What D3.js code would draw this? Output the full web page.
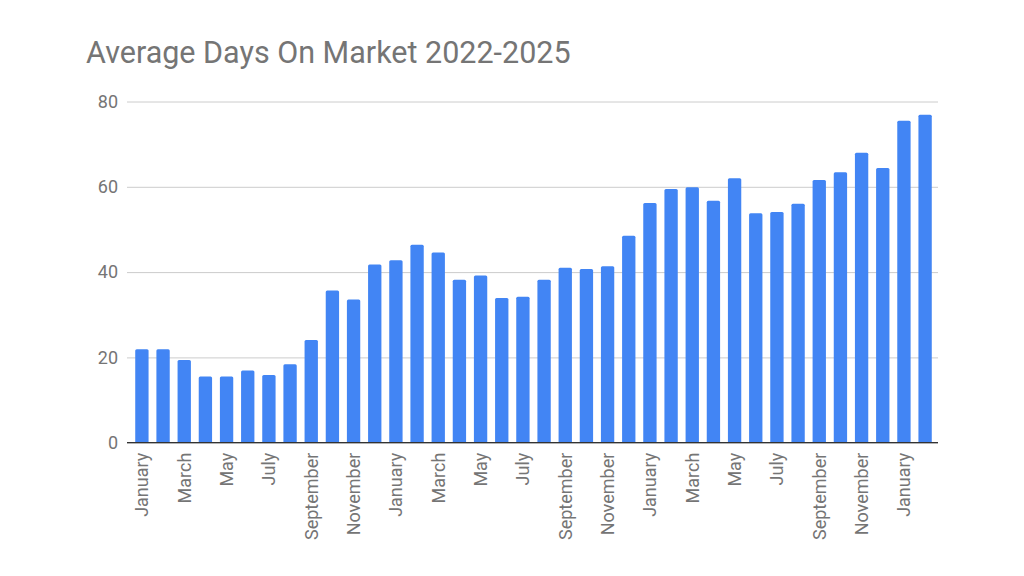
<!DOCTYPE html>
<html>
<head>
<meta charset="utf-8">
<script src="https://cdn.jsdelivr.net/npm/d3@7"></script>
<style>
  body { margin: 0; background: #fff; }
  svg { display: block; font-family: Roboto, "Noto Sans", sans-serif; }
</style>
</head>
<body>
<div id="chart"></div>
<script>
const monthNames = ["January", "February", "March", "April", "May", "June",
  "July", "August", "September", "October", "November", "December"];

// Jan 2022 .. Feb 2025
const months = [
  "2022-01", "2022-02", "2022-03", "2022-04", "2022-05", "2022-06",
  "2022-07", "2022-08", "2022-09", "2022-10", "2022-11", "2022-12",
  "2023-01", "2023-02", "2023-03", "2023-04", "2023-05", "2023-06",
  "2023-07", "2023-08", "2023-09", "2023-10", "2023-11", "2023-12",
  "2024-01", "2024-02", "2024-03", "2024-04", "2024-05", "2024-06",
  "2024-07", "2024-08", "2024-09", "2024-10", "2024-11", "2024-12",
  "2025-01", "2025-02"
];

const daysOnMarket = [
  21.9, 21.9, 19.4, 15.5, 15.5, 16.9, 15.9, 18.4, 24.1, 35.7, 33.6, 41.8,
  42.8, 46.4, 44.6, 38.2, 39.2, 33.9, 34.2, 38.2, 41.0, 40.7, 41.4, 48.5,
  56.2, 59.5, 59.9, 56.7, 62.0, 53.8, 54.1, 56.0, 61.6, 63.4, 68.0, 64.4,
  75.5, 76.9
];

const yTicks = [0, 20, 40, 60, 80];

const width = 1024;
const height = 576;

const svg = d3.select("#chart")
  .append("svg")
  .attr("width", width)
  .attr("height", height);

const x = d3.scaleBand()
  .domain(months)
  .range([131, 936])
  .paddingInner(0.37)
  .paddingOuter(0.2);

const y = d3.scaleLinear()
  .domain([0, 80])
  .range([442.7, 101.5]);

// title
svg.append("text")
  .attr("x", 86)
  .attr("y", 63)
  .attr("fill", "#757575")
  .attr("font-size", 30.5)
  .text("Average Days On Market 2022-2025");

// gridlines + y labels
const yAxis = svg.append("g")
  .attr("transform", "translate(127,0)")
  .call(d3.axisLeft(y).tickValues(yTicks).tickSize(-(938 - 127)).tickPadding(9));

yAxis.select(".domain").remove();
yAxis.selectAll(".tick line")
  .attr("stroke", "#cccccc")
  .attr("stroke-width", 1);
yAxis.selectAll(".tick text")
  .attr("fill", "#757575")
  .attr("font-size", 18)
  .attr("font-family", "Roboto, sans-serif");

// bars
svg.append("g")
  .selectAll("rect")
  .data(months)
  .enter()
  .append("rect")
  .attr("x", d => x(d))
  .attr("y", (d, i) => y(daysOnMarket[i]))
  .attr("width", x.bandwidth())
  .attr("height", (d, i) => y(0) - y(daysOnMarket[i]))
  .attr("rx", 1.5)
  .attr("fill", "#4285f4");

// baseline
svg.append("line")
  .attr("x1", 127)
  .attr("x2", 938)
  .attr("y1", y(0))
  .attr("y2", y(0))
  .attr("stroke", "#333")
  .attr("stroke-width", 1.3);

// x labels, every other month, rotated
const xAxis = svg.append("g")
  .attr("transform", `translate(0,${y(0)})`)
  .call(d3.axisBottom(x)
    .tickValues(months.filter((d, i) => i % 2 === 0))
    .tickSize(0)
    .tickFormat(d => monthNames[+d.slice(5) - 1]));

xAxis.select(".domain").remove();
xAxis.selectAll(".tick text")
  .attr("fill", "#757575")
  .attr("font-size", 18)
  .attr("font-family", "Roboto, sans-serif")
  .attr("text-anchor", "end")
  .attr("dy", "0.35em")
  .attr("transform", "translate(0,10) rotate(-90)")
  .attr("x", 0)
  .attr("y", 0);
</script>
</body>
</html>
